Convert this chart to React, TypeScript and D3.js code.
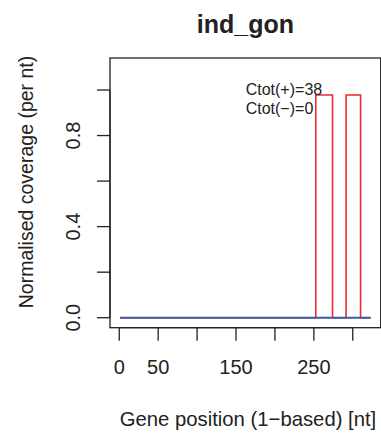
import React from "react";
import * as d3 from "d3";

const titleText = "ind_gon";
const xLabel = "Gene position (1\u2212based) [nt]";
const yLabel = "Normalised coverage (per nt)";
const geneLength = 323;
const plusPositions = [1, 252.5, 274, 291.4, 310, 323];
const plusCoverage = [0, 0.978, 0, 0.978, 0, 0];
const minusPositions = [1, 323];
const minusCoverage = [0, 0];
const xTicks = [0, 50, 100, 150, 200, 250, 300];
const xTickLabels = ["0", "50", "", "150", "", "250", ""];
const yTicks = [0, 0.2, 0.4, 0.6, 0.8, 1.0];
const yTickLabels = ["0.0", "", "0.4", "", "0.8", ""];
const annotations = ["Ctot(+)=38", "Ctot(\u2212)=0"];

const W = 381;
const H = 434;
const box = { left: 110, right: 380.7, top: 58, bottom: 327.7 };
const font = "'Liberation Sans', Arial, Helvetica, sans-serif";
const ink = "#222";

export default function App() {
  const xMin = 1 - 0.04 * (geneLength - 1);
  const xMax = geneLength + 0.04 * (geneLength - 1);
  const x = d3.scaleLinear().domain([xMin, xMax]).range([box.left, box.right]);
  const yTop = 1.0967;
  const y = d3
    .scaleLinear()
    .domain([-0.04 * yTop, yTop * 1.04])
    .range([box.bottom, box.top]);

  const line = d3
    .line<[number, number]>()
    .x((d) => x(d[0]))
    .y((d) => y(d[1]))
    .curve(d3.curveStepAfter);

  const plusPts = plusPositions.map((p, i) => [p, plusCoverage[i]] as [number, number]);
  const minusPts = minusPositions.map((p, i) => [p, minusCoverage[i]] as [number, number]);

  const tick = 13;
  const cx = (box.left + box.right) / 2;

  return (
    <svg
      width={W}
      height={H}
      style={{ position: "absolute", left: 0, top: 0, background: "#fff" }}
      fontFamily={font}
    >
      <rect x={0} y={0} width={W} height={H} fill="#fff" />
      <text x={cx} y={33} textAnchor="middle" fontSize={25} fontWeight="bold" fill={ink}>
        {titleText}
      </text>

      {/* plot box */}
      <rect
        x={box.left}
        y={box.top}
        width={box.right - box.left}
        height={box.bottom - box.top}
        fill="none"
        stroke={ink}
        strokeWidth={1.3}
      />

      {/* lines */}
      <path d={line(plusPts) || ""} fill="none" stroke="#ee2a2a" strokeWidth={1.6} />
      <path d={line(minusPts) || ""} fill="none" stroke="#3b5ba5" strokeWidth={2} />

      {/* x axis */}
      <line x1={x(xTicks[0])} x2={x(xTicks[xTicks.length - 1])} y1={box.bottom} y2={box.bottom} stroke={ink} strokeWidth={1.3} />
      {xTicks.map((t, i) => (
        <g key={"xt" + i}>
          <line x1={x(t)} x2={x(t)} y1={box.bottom} y2={box.bottom + tick} stroke={ink} strokeWidth={1.3} />
          {xTickLabels[i] && (
            <text x={x(t)} y={374} textAnchor="middle" fontSize={20} fill={ink}>
              {xTickLabels[i]}
            </text>
          )}
        </g>
      ))}

      {/* y axis */}
      <line x1={box.left} x2={box.left} y1={y(yTicks[0])} y2={y(yTicks[yTicks.length - 1])} stroke={ink} strokeWidth={1.3} />
      {yTicks.map((t, i) => (
        <g key={"yt" + i}>
          <line x1={box.left - tick} x2={box.left} y1={y(t)} y2={y(t)} stroke={ink} strokeWidth={1.3} />
          {yTickLabels[i] && (
            <text
              transform={`translate(80,${y(t)}) rotate(-90)`}
              textAnchor="middle"
              fontSize={20}
              fill={ink}
            >
              {yTickLabels[i]}
            </text>
          )}
        </g>
      ))}

      {/* annotations */}
      {annotations.map((a, i) => (
        <text key={"a" + i} x={245.7} y={95 + i * 19} fontSize={16} fill={ink}>
          {a}
        </text>
      ))}

      {/* axis labels */}
      <text x={248} y={426} textAnchor="middle" fontSize={20.3} fill={ink}>
        {xLabel}
      </text>
      <text transform={`translate(33,182) rotate(-90)`} textAnchor="middle" fontSize={19.5} fill={ink}>
        {yLabel}
      </text>
    </svg>
  );
}
